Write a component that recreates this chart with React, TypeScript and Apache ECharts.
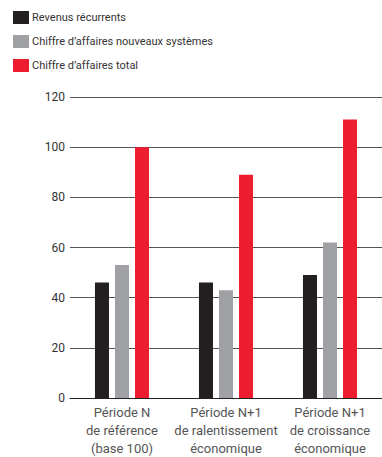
import React, { useEffect, useRef } from "react";
import * as echarts from "echarts";

const categories = [
  "Période N\nde référence\n(base 100)",
  "Période N+1\nde ralentissement\néconomique",
  "Période N+1\nde croissance\néconomique",
];
const seriesNames = [
  "Revenus récurrents",
  "Chiffre d’affaires nouveaux systèmes",
  "Chiffre d’affaires total",
];
const recurrent = [46, 46, 49];
const newSystems = [53, 43, 62];
const total = [100, 89, 111];
const colors = ["#231f20", "#a0a1a5", "#ed1c2e"];

export default function App() {
  const ref = useRef<HTMLDivElement>(null);
  useEffect(() => {
    if (!ref.current) return;
    const chart = echarts.init(ref.current, null, { renderer: "svg" });
    const font = "Roboto, 'DejaVu Sans', sans-serif";
    const data = [recurrent, newSystems, total];
    chart.setOption({
      animation: false,
      textStyle: { fontFamily: font },
      legend: {
        orient: "vertical",
        left: 8,
        top: 6,
        itemWidth: 16,
        itemHeight: 13,
        itemGap: 11,
        icon: "rect",
        textStyle: { fontSize: 11, color: "#333", fontFamily: font, padding: [0, 0, 0, -2] },
        data: seriesNames,
      },
      grid: { left: 70, right: 0, top: 97, bottom: 56, containLabel: false },
      xAxis: {
        type: "category",
        data: categories,
        axisLine: { show: true, lineStyle: { color: "#222", width: 1 } },
        axisTick: { show: false },
        axisLabel: {
          interval: 0,
          fontSize: 13,
          lineHeight: 18,
          color: "#555",
          margin: 5,
          fontFamily: font,
        },
      },
      yAxis: {
        type: "value",
        min: 0,
        max: 120,
        interval: 20,
        axisLine: { show: false },
        axisTick: { show: false },
        axisLabel: { fontSize: 12, color: "#333", margin: 5, fontFamily: font },
        splitLine: { show: true, lineStyle: { color: "#555", width: 1 } },
      },
      series: seriesNames.map((name, i) => ({
        name,
        type: "bar",
        data: data[i],
        barWidth: 14,
        barGap: "43%",
        itemStyle: { color: colors[i] },
      })),
    });
    return () => chart.dispose();
  }, []);
  return <div ref={ref} style={{ width: 382, height: 457, position: "absolute", left: 0, top: 0 }} />;
}
